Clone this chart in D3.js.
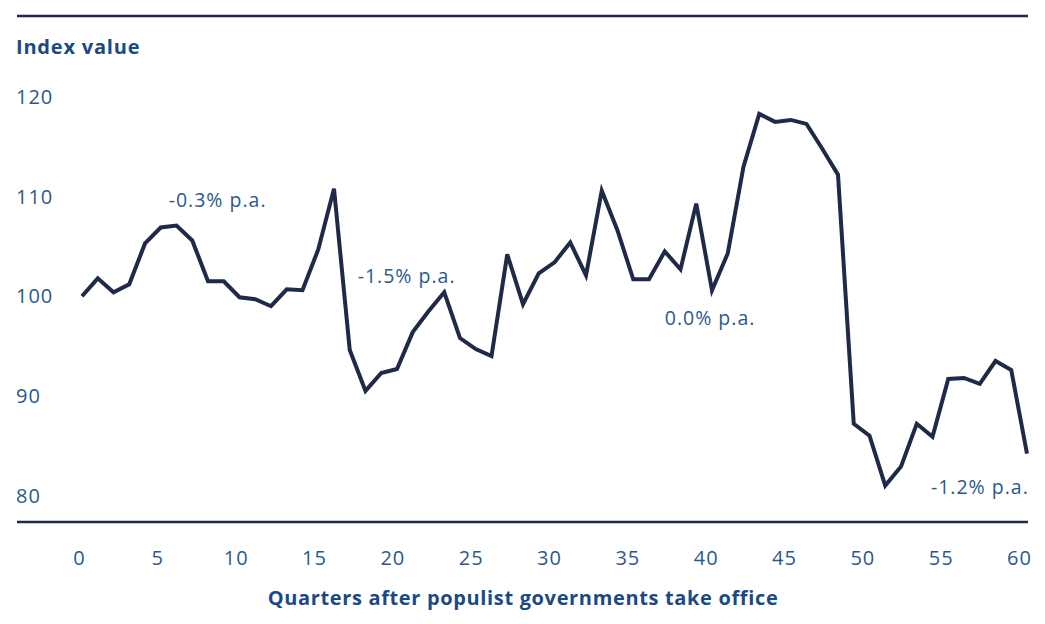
<!DOCTYPE html>
<html>
<head>
<meta charset="utf-8">
<script src="https://cdn.jsdelivr.net/npm/d3@7"></script>
<style>
  body { margin: 0; background: #fff; }
  svg { font-family: "Open Sans", Lato, sans-serif; }
</style>
</head>
<body>
<svg id="chart" width="1045" height="624"></svg>
<script>
// index value per quarter after populist governments take office
var quarters = d3.range(0, 61);
var indexValues = [
  100.0, 101.8, 100.4, 101.2, 105.3, 106.9, 107.1, 105.6, 101.5, 101.5,
  99.9, 99.7, 99.0, 100.7, 100.6, 104.7, 110.8, 94.6, 90.5, 92.3,
  92.7, 96.4, 98.5, 100.4, 95.8, 94.7, 94.0, 104.2, 99.2, 102.3,
  103.4, 105.4, 102.1, 110.6, 106.6, 101.7, 101.7, 104.5, 102.7, 109.3,
  100.6, 104.3, 113.0, 118.3, 117.5, 117.7, 117.3, 114.8, 112.2, 87.2,
  86.0, 81.0, 82.9, 87.2, 85.9, 91.7, 91.8, 91.2, 93.5, 92.6,
  84.2
];
var xTicks = [0, 5, 10, 15, 20, 25, 30, 35, 40, 45, 50, 55, 60];
var yTicks = [80, 90, 100, 110, 120];
// growth annotations: label and where its left edge sits (quarter, value)
var annoLabels = ["-0.3% p.a.", "-1.5% p.a.", "0.0% p.a.", "-1.2% p.a."];
var annoQuarter = [5.5, 17.5, 37.0, 53.9];
var annoValue = [109.7, 102.0, 97.8, 80.9];

var svg = d3.select("#chart");
var navy = "#1f2a48";
var blue = "#2a5a8c";
var titleBlue = "#1a4a84";

// the line spans a little wider than the tick labels in the original
var x = d3.scaleLinear().domain([0, 60]).range([82, 1027]);
var xLabels = d3.scaleLinear().domain([0, 60]).range([79, 1019]);
var y = d3.scaleLinear().domain([80, 120]).range([495.5, 97]);

// top rule and bottom axis rule
svg.append("line")
  .attr("x1", 17).attr("x2", 1028).attr("y1", 16).attr("y2", 16)
  .attr("stroke", navy).attr("stroke-width", 2.5);
svg.append("line")
  .attr("x1", 17).attr("x2", 1028).attr("y1", 522).attr("y2", 522)
  .attr("stroke", navy).attr("stroke-width", 2.5);

// y axis title
svg.append("text")
  .attr("x", 16).attr("y", 54)
  .attr("fill", titleBlue)
  .attr("font-size", 20).attr("font-weight", "bold")
  .attr("letter-spacing", 0.8)
  .text("Index value");

// y tick labels
svg.selectAll(".ytick")
  .data(yTicks)
  .enter().append("text")
  .attr("class", "ytick")
  .attr("x", 16)
  .attr("y", d => y(d))
  .attr("dy", "0.36em")
  .attr("fill", blue)
  .attr("font-size", 20)
  .attr("letter-spacing", 1)
  .text(d => d);

// x axis, built with d3 then stripped of domain / tick lines
var xAxis = d3.axisBottom(xLabels).tickValues(xTicks).tickSize(0).tickPadding(0);
var gx = svg.append("g")
  .attr("transform", "translate(0,551)")
  .call(xAxis);
gx.select(".domain").remove();
gx.selectAll("text")
  .attr("fill", blue)
  .attr("font-size", 20)
  .attr("letter-spacing", 1)
  .attr("font-family", "'Open Sans', Lato, sans-serif");

// x axis title
svg.append("text")
  .attr("x", 523).attr("y", 605)
  .attr("text-anchor", "middle")
  .attr("fill", titleBlue)
  .attr("font-size", 20).attr("font-weight", "bold")
  .attr("letter-spacing", 0.65)
  .text("Quarters after populist governments take office");

// the series
var line = d3.line()
  .x((d, i) => x(quarters[i]))
  .y(d => y(d));

svg.append("path")
  .datum(indexValues)
  .attr("d", line)
  .attr("fill", "none")
  .attr("stroke", navy)
  .attr("stroke-width", 4)
  .attr("stroke-linejoin", "miter");

// annotations
svg.selectAll(".anno")
  .data(annoLabels)
  .enter().append("text")
  .attr("class", "anno")
  .attr("x", (d, i) => x(annoQuarter[i]))
  .attr("y", (d, i) => y(annoValue[i]))
  .attr("dy", "0.36em")
  .attr("fill", blue)
  .attr("font-size", 19.5)
  .attr("letter-spacing", 1)
  .text(d => d);
</script>
</body>
</html>
